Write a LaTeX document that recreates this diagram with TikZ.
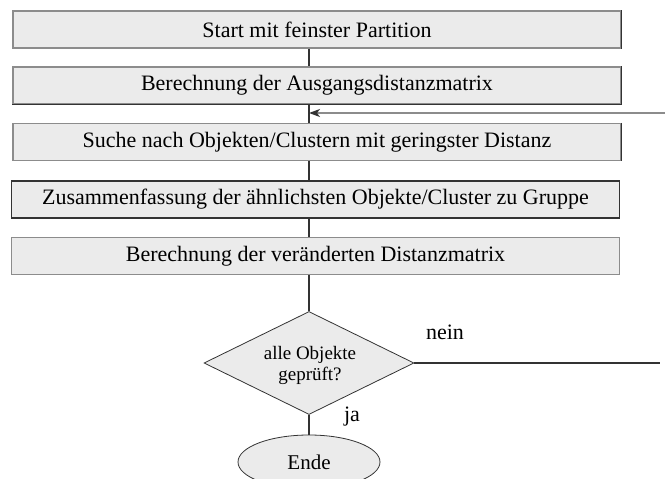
\documentclass[tikz,border=0pt]{standalone}
\usepackage{fontspec}
\setmainfont{Liberation Serif}
\usetikzlibrary{shapes.geometric,arrows.meta}
\definecolor{boxfill}{HTML}{EBEBEB}
\definecolor{edgegray}{HTML}{8C8C8C}
\definecolor{darkline}{HTML}{333333}
\begin{document}
\begin{tikzpicture}[x=1pt,y=-1pt,
  proc/.style={rectangle, fill=boxfill, draw=edgegray, line width=1.2pt,
    minimum width=608pt, minimum height=37pt, inner sep=0pt,
    font=\fontsize{22}{24}\selectfont},
  decision/.style={diamond, fill=boxfill, draw=darkline, line width=0.8pt,
    minimum width=210pt, minimum height=103pt, inner sep=0pt},
  dtext/.style={align=center, inner sep=0pt, font=\fontsize{19}{21}\selectfont},
  term/.style={ellipse, fill=boxfill, draw=darkline, line width=0.8pt,
    minimum width=142pt, minimum height=54pt, inner sep=0pt,
    font=\fontsize{21}{23}\selectfont},
  conn/.style={draw=darkline, line width=1.2pt},
  shade/.style={draw=darkline, line width=1.2pt},
  lbl/.style={font=\fontsize{22}{24}\selectfont, inner sep=0pt}]
\useasboundingbox (0,0) rectangle (665,479);
\fill[white] (0,0) rectangle (665,479);
\node[proc] (b1) at (317,29.5) {Start mit feinster Partition};
\node[proc] (b2) at (317,85.5) {Berechnung der Ausgangsdistanzmatrix};
\node[proc] (b3) at (317,142) {Suche nach Objekten/Clustern mit geringster Distanz};
\node[proc, draw=darkline] (b4) at (315.5,199.5) {Zusammenfassung der ähnlichsten Objekte/Cluster zu Gruppe};
\node[proc] (b5) at (315.5,256) {Berechnung der veränderten Distanzmatrix};
\draw[shade] (b1.north east) -- (b1.south east);
\draw[shade] (b2.north east) -- (b2.south east) -- (b2.south west);
\draw[shade] (b3.north east) -- (b3.south east);
\node[decision] (d) at (309,363) {};
\node[dtext] (dt) at (310,365) {alle Objekte\\geprüft?};
\node[term] (e) at (309,462) {Ende};
\coordinate (col) at (309,0);
\coordinate (join) at (309,113);
\coordinate (loopin) at (665,113);
\coordinate (loopout) at (660,363);
\draw[conn] (b1.south -| col) -- (b2.north -| col);
\draw[conn] (b2.south -| col) -- (b3.north -| col);
\draw[conn] (b3.south -| col) -- (b4.north -| col);
\draw[conn] (b4.south -| col) -- (b5.north -| col);
\draw[conn] (b5.south -| col) -- (d.north);
\draw[conn] (d.south) -- (e.north);
\draw[conn] (d.east) -- (loopout);
\draw[conn, draw=edgegray, line width=1.5pt, -{Stealth[length=11pt,width=8pt,inset=3pt,color=darkline]}] (loopin) -- (join);
\node[lbl] (nein) at (445,332) {nein};
\node[lbl] (ja) at (352,417) {ja};
\end{tikzpicture}
\end{document}
